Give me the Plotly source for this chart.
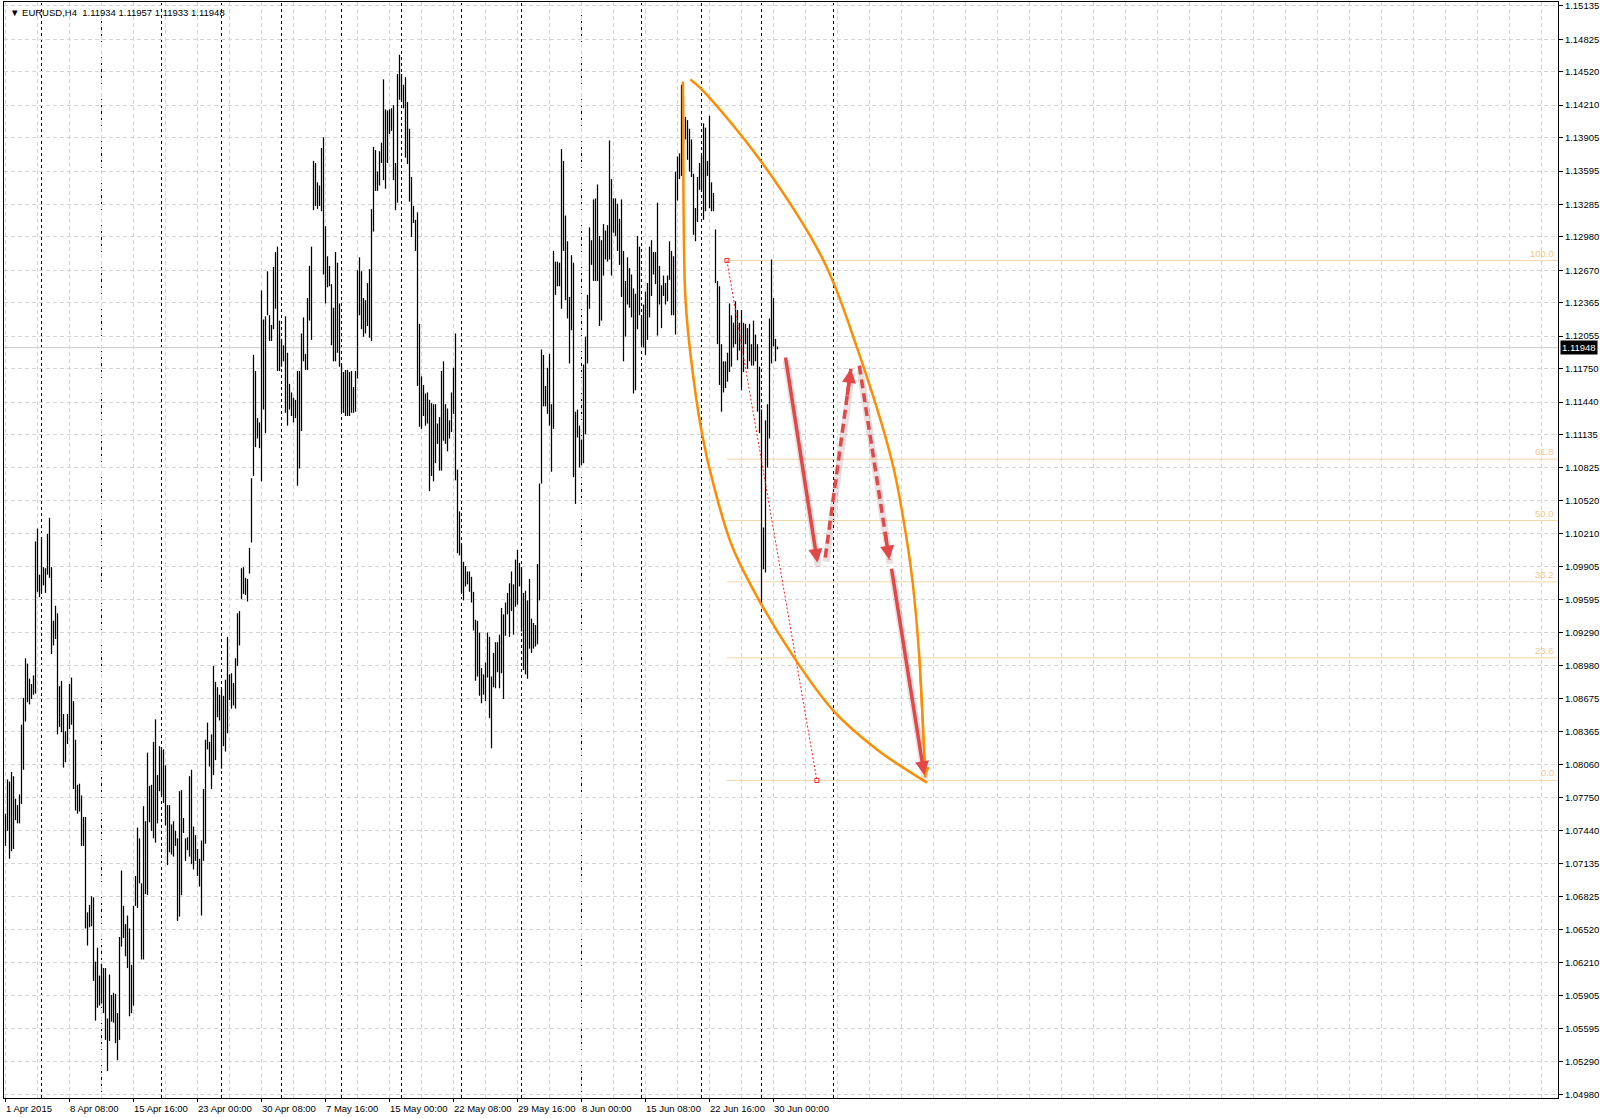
import plotly.graph_objects as go

# EURUSD H4 bars, 1 Apr 2015 00:00 .. 30 Jun 2015 08:00 (highs / lows)
apr_high = [
    1.0760, 1.0792, 1.0790, 1.0799, 1.0795, 1.0774, 1.0768, 1.0778, 1.0843, 1.0868,
    1.0905, 1.0900, 1.0886, 1.0881, 1.0889, 1.1014, 1.1026, 1.0983, 1.1018, 1.0990,
    1.0989, 1.1021, 1.1036, 1.0990, 1.0940, 1.0954, 1.0947, 1.0879, 1.0884, 1.0853,
    1.0837, 1.0853, 1.0881, 1.0887, 1.0865, 1.0829, 1.0787, 1.0788, 1.0777, 1.0757,
    1.0757, 1.0668, 1.0675, 1.0683, 1.0682, 1.0622, 1.0635, 1.0609, 1.0620, 1.0616,
    1.0616, 1.0569, 1.0610, 1.0591, 1.0593, 1.0592, 1.0574, 1.0645, 1.0707, 1.0674,
    1.0657, 1.0665, 1.0653, 1.0619, 1.0674, 1.0702, 1.0747, 1.0737, 1.0695, 1.0767,
    1.0753, 1.0817, 1.0786, 1.0787, 1.0827, 1.0848, 1.0796, 1.0823, 1.0822, 1.0820,
    1.0805, 1.0768, 1.0768, 1.0750, 1.0753, 1.0744, 1.0737, 1.0781, 1.0782, 1.0756,
    1.0737, 1.0738, 1.0795, 1.0801, 1.0748, 1.0740, 1.0727, 1.0718,
    1.0735, 1.0783, 1.0829, 1.0845, 1.0827, 1.0834, 1.0898, 1.0883, 1.0878, 1.0871,
    1.0877, 1.0870, 1.0885, 1.0925, 1.0890, 1.0891, 1.0882, 1.0905, 1.0947, 1.0949,
    1.0989, 1.0990, 1.0980, 1.0979, 1.1008, 1.1073, 1.1188, 1.1173, 1.1129, 1.1125,
    1.1248, 1.1221, 1.1224, 1.1266,
]
apr_low = [
    1.0730, 1.0744, 1.0718, 1.0725, 1.0727, 1.0754, 1.0751, 1.0751, 1.0769, 1.0801,
    1.0846, 1.0864, 1.0862, 1.0867, 1.0871, 1.0872, 1.0967, 1.0962, 1.0966, 1.0973,
    1.0966, 1.0983, 1.0980, 1.0909, 1.0917, 1.0923, 1.0834, 1.0841, 1.0836, 1.0803,
    1.0808, 1.0825, 1.0839, 1.0843, 1.0783, 1.0763, 1.0760, 1.0762, 1.0730, 1.0730,
    1.0653, 1.0637, 1.0654, 1.0655, 1.0604, 1.0567, 1.0579, 1.0581, 1.0583, 1.0574,
    1.0549, 1.0520, 1.0548, 1.0566, 1.0565, 1.0546, 1.0530, 1.0549, 1.0636, 1.0644,
    1.0627, 1.0616, 1.0571, 1.0574, 1.0581, 1.0674, 1.0672, 1.0695, 1.0624, 1.0624,
    1.0685, 1.0684, 1.0752, 1.0744, 1.0737, 1.0733, 1.0751, 1.0781, 1.0777, 1.0770,
    1.0749, 1.0712, 1.0724, 1.0722, 1.0720, 1.0730, 1.0660, 1.0664, 1.0684, 1.0742,
    1.0716, 1.0726, 1.0720, 1.0713, 1.0708, 1.0716, 1.0702, 1.0692,
    1.0665, 1.0716, 1.0732, 1.0820, 1.0804, 1.0783, 1.0796, 1.0810, 1.0850, 1.0847,
    1.0802, 1.0823, 1.0818, 1.0835, 1.0866, 1.0858, 1.0861, 1.0858, 1.0898, 1.0917,
    1.0960, 1.0965, 1.0964, 1.0958, 1.0984, 1.1013, 1.1075, 1.1102, 1.1110, 1.1101,
    1.1070, 1.1137, 1.1115, 1.1225,
]
may_high = [
    1.1225, 1.1216, 1.1270, 1.1284, 1.1289, 1.1220, 1.1203, 1.1197, 1.1224, 1.1190,
    1.1161, 1.1153, 1.1148, 1.1146, 1.1173, 1.1173, 1.1208, 1.1223, 1.1189, 1.1241,
    1.1271, 1.1289, 1.1369, 1.1367, 1.1349, 1.1346, 1.1381, 1.1391, 1.1308, 1.1280,
    1.1271, 1.1254, 1.1232, 1.1284, 1.1274, 1.1236, 1.1180, 1.1172, 1.1174, 1.1174,
    1.1172, 1.1173, 1.1158, 1.1173, 1.1267, 1.1279, 1.1266, 1.1241, 1.1239, 1.1255,
    1.1268, 1.1324, 1.1382, 1.1379, 1.1359, 1.1378, 1.1386, 1.1445, 1.1417, 1.1416,
    1.1417, 1.1418, 1.1421, 1.1367, 1.1450, 1.1468, 1.1450, 1.1440,
    1.1447, 1.1424, 1.1399, 1.1354, 1.1327, 1.1314, 1.1321, 1.1217, 1.1168, 1.1160,
    1.1152, 1.1153, 1.1146, 1.1143, 1.1142, 1.1142, 1.1124, 1.1130, 1.1173, 1.1182,
    1.1142, 1.1138, 1.1127, 1.1153, 1.1176, 1.1208, 1.1081, 1.1042, 1.1012, 1.0995,
    1.0991, 1.0986, 1.0986, 1.0981, 1.0967, 1.0941, 1.0940, 1.0929, 1.0896, 1.0890,
    1.0901, 1.0929, 1.0925, 1.0888, 1.0910, 1.0920, 1.0920, 1.0927, 1.0952, 1.0946,
    1.0957, 1.0966, 1.0975, 1.0986, 1.0974, 1.0997, 1.1006, 1.0994,
]
may_low = [
    1.1201, 1.1201, 1.1212, 1.1231, 1.1173, 1.1173, 1.1177, 1.1182, 1.1134, 1.1122,
    1.1137, 1.1131, 1.1125, 1.1129, 1.1066, 1.1082, 1.1117, 1.1182, 1.1174, 1.1174,
    1.1220, 1.1202, 1.1323, 1.1327, 1.1324, 1.1327, 1.1322, 1.1263, 1.1236, 1.1251,
    1.1252, 1.1197, 1.1182, 1.1182, 1.1190, 1.1177, 1.1134, 1.1134, 1.1131, 1.1131,
    1.1131, 1.1134, 1.1134, 1.1135, 1.1166, 1.1225, 1.1212, 1.1205, 1.1208, 1.1215,
    1.1204, 1.1201, 1.1303, 1.1341, 1.1341, 1.1346, 1.1367, 1.1351, 1.1343, 1.1367,
    1.1394, 1.1397, 1.1351, 1.1323, 1.1330, 1.1426, 1.1424, 1.1418,
    1.1372, 1.1366, 1.1331, 1.1298, 1.1311, 1.1285, 1.1159, 1.1121, 1.1119, 1.1131,
    1.1122, 1.1124, 1.1061, 1.1075, 1.1070, 1.1087, 1.1105, 1.1080, 1.1080, 1.1108,
    1.1105, 1.1098, 1.1110, 1.1116, 1.1133, 1.1071, 1.1003, 1.1001, 1.0966, 1.0959,
    1.0972, 1.0974, 1.0967, 1.0957, 1.0931, 1.0884, 1.0888, 1.0870, 1.0863, 1.0871,
    1.0865, 1.0887, 1.0849, 1.0821, 1.0878, 1.0877, 1.0892, 1.0877, 1.0891, 1.0867,
    1.0926, 1.0946, 1.0925, 1.0949, 1.0927, 1.0953, 1.0955, 1.0972,
]
jun_high = [
    1.0990, 1.0966, 1.0968, 1.0959, 1.0979, 1.0942, 1.0938, 1.0936, 1.0993, 1.1068,
    1.1193, 1.1188, 1.1159, 1.1176, 1.1189, 1.1142, 1.1285, 1.1275, 1.1275, 1.1274,
    1.1380, 1.1369, 1.1318, 1.1294, 1.1242, 1.1281, 1.1274, 1.1135, 1.1137, 1.1122,
    1.1109, 1.1179, 1.1205, 1.1244, 1.1307, 1.1295, 1.1333,
    1.1334, 1.1347, 1.1299, 1.1295, 1.1310, 1.1304, 1.1309, 1.1388, 1.1352, 1.1334,
    1.1334, 1.1329, 1.1315, 1.1333, 1.1285, 1.1257, 1.1279, 1.1269, 1.1263, 1.1250,
    1.1245, 1.1299, 1.1289, 1.1225, 1.1235, 1.1247, 1.1255, 1.1289, 1.1295, 1.1284,
    1.1284, 1.1330, 1.1271, 1.1253, 1.1262, 1.1255, 1.1262, 1.1294, 1.1285, 1.1280,
    1.1359, 1.1373, 1.1376, 1.1440, 1.1429, 1.1410, 1.1407, 1.1399, 1.1389, 1.1357,
    1.1325, 1.1354, 1.1367, 1.1374, 1.1404, 1.1400, 1.1369, 1.1411, 1.1349, 1.1339,
    1.1305, 1.1257, 1.1252, 1.1198, 1.1182, 1.1182, 1.1190, 1.1236, 1.1225, 1.1218,
    1.1238, 1.1230, 1.1218, 1.1230, 1.1218, 1.1217, 1.1213, 1.1217, 1.1198, 1.1220,
    1.1207, 1.1198, 1.1177, 1.1137, 1.1027, 1.1127, 1.1142, 1.1222, 1.1277, 1.1241,
    1.1203, 1.11957,
]
jun_low = [
    1.0930, 1.0894, 1.0890, 1.0886, 1.0914, 1.0910, 1.0914, 1.0916, 1.0918, 1.0959,
    1.1068, 1.1140, 1.1140, 1.1133, 1.1122, 1.1079, 1.1119, 1.1244, 1.1252, 1.1252,
    1.1231, 1.1285, 1.1239, 1.1222, 1.1180, 1.1211, 1.1074, 1.1049, 1.1111, 1.1083,
    1.1085, 1.1087, 1.1114, 1.1180, 1.1231, 1.1272, 1.1257,
    1.1257, 1.1257, 1.1215, 1.1220, 1.1262, 1.1277, 1.1275, 1.1277, 1.1262, 1.1302,
    1.1299, 1.1285, 1.1272, 1.1242, 1.1182, 1.1205, 1.1235, 1.1232, 1.1223, 1.1152,
    1.1155, 1.1212, 1.1225, 1.1197, 1.1195, 1.1188, 1.1202, 1.1223, 1.1243, 1.1263,
    1.1254, 1.1206, 1.1235, 1.1213, 1.1243, 1.1235, 1.1238, 1.1258, 1.1225, 1.1225,
    1.1207, 1.1332, 1.1352, 1.1355, 1.1384, 1.1389, 1.1370, 1.1359, 1.1354, 1.1300,
    1.1294, 1.1312, 1.1342, 1.1342, 1.1314, 1.1322, 1.1355, 1.1325, 1.1322, 1.1322,
    1.1255, 1.1198, 1.1160, 1.1135, 1.1153, 1.1157, 1.1163, 1.1172, 1.1177, 1.1195,
    1.1198, 1.1183, 1.1192, 1.1155, 1.1172, 1.1198, 1.1175, 1.1182, 1.1178, 1.1178,
    1.1182, 1.1135, 1.1115, 1.0955, 1.0988, 1.0985, 1.1083, 1.1110, 1.1180, 1.1196,
    1.1182, 1.11933,
]

header = "\u25bc EURUSD,H4  1.11934 1.11957 1.11933 1.11948"
last_price = 1.11948

x_labels = ["1 Apr 2015", "8 Apr 08:00", "15 Apr 16:00", "23 Apr 00:00", "30 Apr 08:00",
            "7 May 16:00", "15 May 00:00", "22 May 08:00", "29 May 16:00", "8 Jun 00:00",
            "15 Jun 08:00", "22 Jun 16:00", "30 Jun 00:00"]
x_label_bars = [0, 32, 64, 96, 128, 160, 192, 224, 256, 288, 320, 352, 384]
week_start_bars = [18, 48, 78, 108, 138, 168, 198, 228, 258, 288, 318, 348, 378]
vline_bar = 414
y_labels = ["1.15135", "1.14825", "1.14520", "1.14210", "1.13905", "1.13595", "1.13285",
            "1.12980", "1.12670", "1.12365", "1.12055", "1.11750", "1.11440", "1.11135",
            "1.10825", "1.10520", "1.10210", "1.09905", "1.09595", "1.09290", "1.08980",
            "1.08675", "1.08365", "1.08060", "1.07750", "1.07440", "1.07135", "1.06825",
            "1.06520", "1.06210", "1.05905", "1.05595", "1.05290", "1.04980"]

# fibonacci retracement drawn on the chart
fib_bars = [360.7, 405.7]
fib_prices = [1.1276, 1.0791]
fib_ratios = [1.0, 0.618, 0.5, 0.382, 0.236, 0.0]
fib_names = ["100.0", "61.8", "50.0", "38.2", "23.6", "0.0"]

# two orange arcs
arc_left_bar = [338.7, 339.0, 339.9, 342.4, 348.2, 354.0, 363.2, 377.4, 394.9, 414.0, 435.7, 460.7]
arc_left_price = [1.1443, 1.1331, 1.1243, 1.1190, 1.1115, 1.1067, 1.1010, 1.0957, 1.0904,
                  1.0856, 1.0820, 1.0789]
arc_right_bar = [342.4, 348.0, 378.0, 409.0, 425.7, 443.2, 449.0, 453.5, 456.9, 459.9]
arc_right_price = [1.1445, 1.1436, 1.1368, 1.1276, 1.1195, 1.1089, 1.1034, 1.0977, 1.0906, 1.0794]

# red projection arrows
arrow_from_bar = [389.9, 409.9, 426.9, 442.9]
arrow_from_price = [1.1187, 1.0999, 1.1178, 1.0990]
arrow_to_bar = [406.0, 422.7, 441.9, 459.4]
arrow_to_price = [1.0994, 1.1175, 1.0997, 1.0796]
arrow_dashed = [False, True, True, False]

FONT = "Liberation Sans"
RED = "#E34848"
ORANGE = "#FF8C00"
FIB_COLOR = "#F5D7A8"
X_MIN, X_MAX = -0.75, 776.25
Y_MIN, Y_MAX = 1.04948, 1.15172

highs = apr_high + may_high + jun_high
lows = apr_low + may_low + jun_low

bar_x, bar_y = [], []
for i, (h, l) in enumerate(zip(highs, lows)):
    bar_x += [i, i, None]
    bar_y += [l, h, None]

fig = go.Figure()

fig.add_trace(go.Scatter(x=bar_x, y=bar_y, mode="lines",
                         line=dict(color="black", width=1.25), hoverinfo="skip"))

shapes = []
for b in week_start_bars + [vline_bar]:
    shapes.append(dict(type="line", xref="x", yref="paper", x0=b, x1=b, y0=0, y1=1,
                       line=dict(color="black", width=1, dash="3px,3px"), layer="below"))

shapes.append(dict(type="line", xref="paper", yref="y", x0=0, x1=1, y0=last_price, y1=last_price,
                   line=dict(color="#C8C8C8", width=1), layer="below"))

fib_hi, fib_lo = fib_prices
annotations = []
for r, name in zip(fib_ratios, fib_names):
    lvl = fib_lo + r * (fib_hi - fib_lo)
    shapes.append(dict(type="line", xref="x", yref="y", x0=fib_bars[0], x1=X_MAX, y0=lvl, y1=lvl,
                       line=dict(color=FIB_COLOR, width=1), layer="below"))
    annotations.append(dict(xref="paper", yref="y", x=0.999, y=lvl, text=name, showarrow=False,
                            xanchor="right", yanchor="bottom",
                            font=dict(family=FONT, size=9.5, color="#F2C890")))

fig.add_trace(go.Scatter(x=fib_bars, y=fib_prices, mode="lines+markers",
                         line=dict(color="#FF2020", width=1, dash="2px,2px"),
                         marker=dict(symbol="square-open", size=4, color="#FF2020"),
                         hoverinfo="skip"))

for bx, py in [(arc_left_bar, arc_left_price), (arc_right_bar, arc_right_price)]:
    fig.add_trace(go.Scatter(x=bx, y=py, mode="lines", line=dict(color=ORANGE, width=2.5, shape="spline",
                                                                  smoothing=1.0), hoverinfo="skip"))
annotations.append(dict(x=arc_right_bar[-1], y=arc_right_price[-1], ax=arc_right_bar[-2],
                        ay=arc_right_price[-2], xref="x", yref="y", axref="x", ayref="y", text="",
                        showarrow=True, arrowhead=2, arrowsize=1, arrowwidth=2, arrowcolor=ORANGE))

for x0, y0, x1, y1, dashed in zip(arrow_from_bar, arrow_from_price, arrow_to_bar,
                                  arrow_to_price, arrow_dashed):
    fig.add_trace(go.Scatter(x=[x0 + 0.4, x1 + 0.4], y=[y0 - 0.0004, y1 - 0.0004], mode="lines",
                             line=dict(color="rgba(120,40,40,0.15)", width=7), hoverinfo="skip"))
    if dashed:
        fig.add_trace(go.Scatter(x=[x0, x1], y=[y0, y1], mode="lines",
                                 line=dict(color=RED, width=3.5, dash="9px,5px"), hoverinfo="skip"))
        tx, ty = x0 + 0.85 * (x1 - x0), y0 + 0.85 * (y1 - y0)
    else:
        tx, ty = x0, y0
    annotations.append(dict(x=x1, y=y1, ax=tx, ay=ty, xref="x", yref="y", axref="x", ayref="y",
                            text="", showarrow=True, arrowhead=2, arrowsize=0.8, arrowwidth=3.5,
                            arrowcolor=RED, standoff=0))

for b, lab in zip(x_label_bars, x_labels):
    annotations.append(dict(xref="x", yref="paper", x=b, y=-0.0095, text=lab, showarrow=False,
                            xanchor="left", yanchor="middle", xshift=-2,
                            font=dict(family=FONT, size=9.5, color="black")))

annotations.append(dict(xref="paper", yref="paper", x=0.0026, y=0.9905, text=header, showarrow=False,
                        xanchor="left", yanchor="middle", font=dict(family=FONT, size=9.5, color="black")))
annotations.append(dict(xref="paper", yref="y", x=1, y=last_price, text="1.11948", showarrow=False,
                        xanchor="left", yanchor="middle", xshift=2, bgcolor="black", borderpad=1,
                        font=dict(family=FONT, size=9.5, color="white")))

grid = dict(showgrid=True, gridcolor="#D6D6D6", griddash="4px,3px", gridwidth=1)

fig.update_layout(
    width=1600, height=1118,
    margin=dict(l=4, r=42, t=2, b=20),
    paper_bgcolor="white", plot_bgcolor="white",
    showlegend=False,
    shapes=shapes, annotations=annotations,
    xaxis=dict(range=[X_MIN, X_MAX], tickvals=list(range(0, 777, 16)), showticklabels=False,
               ticks="", zeroline=False, showline=True, mirror=True, linecolor="black", linewidth=1,
               automargin=False,
               minor=dict(tickvals=x_label_bars, ticks="outside", ticklen=3, tickcolor="black",
                          showgrid=False),
               **grid),
    yaxis=dict(range=[Y_MIN, Y_MAX], side="right", tickvals=[float(v) for v in y_labels],
               ticktext=y_labels, ticks="outside", ticklen=4, tickcolor="black",
               tickfont=dict(family=FONT, size=9.5, color="black"), zeroline=False, automargin=False,
               showline=True, mirror=True, linecolor="black", linewidth=1, **grid),
)

fig.write_html("out.html", config={"displayModeBar": False},
               post_script="document.body.style.margin='0';document.body.style.overflow='hidden';")
